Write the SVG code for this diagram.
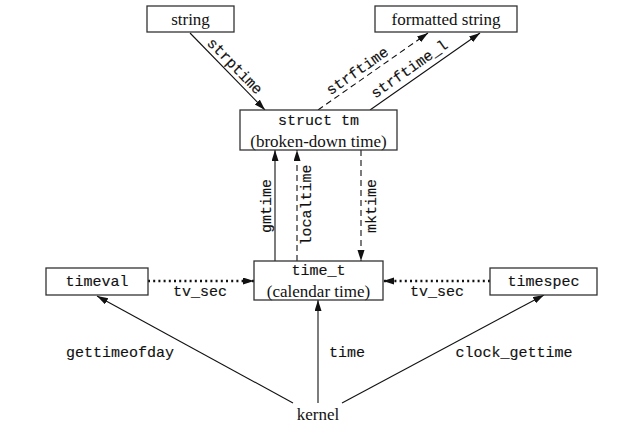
<svg xmlns="http://www.w3.org/2000/svg" width="634" height="443" viewBox="0 0 634 443">
<style>
.box{fill:#fff;stroke:#333;stroke-width:1.3}
.serif{font-family:"Liberation Serif",serif;font-size:17px;fill:#111}
.mono{font-family:"Liberation Mono",monospace;font-size:15px;fill:#111;stroke:#111;stroke-width:0.15}
.ln{stroke:#111;stroke-width:1.1;fill:none}
.dash{stroke-dasharray:6,4}
.dot{stroke-width:2.4;stroke-dasharray:2,3.2}
</style>
<defs>
<marker id="ah" markerUnits="userSpaceOnUse" markerWidth="12" markerHeight="8" refX="11" refY="3.5" orient="auto">
<path d="M0,0 L11,3.5 L0,7 z" fill="#111"/>
</marker>
</defs>
<g id="connectors">
<line class="ln" x1="190" y1="33" x2="265" y2="110" marker-end="url(#ah)"/>
<line class="ln dash" x1="318" y1="110" x2="428" y2="33" marker-end="url(#ah)"/>
<line class="ln" x1="370" y1="110" x2="480" y2="33" marker-end="url(#ah)"/>
<line class="ln" x1="275" y1="261" x2="275" y2="150" marker-end="url(#ah)"/>
<line class="ln dash" x1="297" y1="261" x2="297" y2="150" marker-end="url(#ah)"/>
<line class="ln dash" x1="361" y1="150" x2="361" y2="261" marker-end="url(#ah)"/>
<line class="ln dot" x1="148" y1="281" x2="254" y2="281" marker-end="url(#ah)"/>
<line class="ln dot" x1="490" y1="281" x2="383" y2="281" marker-end="url(#ah)"/>
<line class="ln" x1="293" y1="403" x2="97" y2="296" marker-end="url(#ah)"/>
<line class="ln" x1="318" y1="403" x2="318" y2="300" marker-end="url(#ah)"/>
<line class="ln" x1="342" y1="403" x2="544" y2="295" marker-end="url(#ah)"/>
<text class="mono" transform="translate(234,67) rotate(45.7)" text-anchor="middle" dominant-baseline="central">strptime</text>
<text class="mono" transform="translate(358,72) rotate(-35)" text-anchor="middle" dominant-baseline="central">strftime</text>
<text class="mono" transform="translate(410,70) rotate(-35)" text-anchor="middle" dominant-baseline="central">strftime_l</text>
<text class="mono" transform="translate(267,206) rotate(-90)" text-anchor="middle" dominant-baseline="central">gmtime</text>
<text class="mono" transform="translate(307,205) rotate(-90)" text-anchor="middle" dominant-baseline="central">localtime</text>
<text class="mono" transform="translate(372,206) rotate(-90)" text-anchor="middle" dominant-baseline="central">mktime</text>
<text class="mono" x="200" y="296" text-anchor="middle">tv_sec</text>
<text class="mono" x="437" y="296" text-anchor="middle">tv_sec</text>
<text class="mono" x="120" y="357" text-anchor="middle">gettimeofday</text>
<text class="mono" x="347" y="357" text-anchor="middle">time</text>
<text class="mono" x="514" y="357" text-anchor="middle">clock_gettime</text>
</g>
<g id="string">
<rect class="box" x="147" y="6" width="87" height="26"/>
<text class="serif" x="190.5" y="25" text-anchor="middle">string</text>
</g>
<g id="formatted-string">
<rect class="box" x="375" y="6" width="142" height="26"/>
<text class="serif" x="446" y="25" text-anchor="middle">formatted string</text>
</g>
<g id="struct-tm">
<rect class="box" x="240" y="110" width="157" height="40"/>
<text class="mono" x="318.5" y="125" text-anchor="middle">struct tm</text>
<text class="serif" x="318.5" y="147" text-anchor="middle">(broken-down time)</text>
</g>
<g id="time-t">
<rect class="box" x="254" y="261" width="129" height="39"/>
<text class="mono" x="318.5" y="275" text-anchor="middle">time_t</text>
<text class="serif" x="318.5" y="297" text-anchor="middle">(calendar time)</text>
</g>
<g id="timeval">
<rect class="box" x="46" y="268" width="102" height="27"/>
<text class="mono" x="97" y="286" text-anchor="middle">timeval</text>
</g>
<g id="timespec">
<rect class="box" x="490" y="268" width="107" height="27"/>
<text class="mono" x="543.5" y="286" text-anchor="middle">timespec</text>
</g>
<g id="kernel">
<text class="serif" x="318" y="420" text-anchor="middle">kernel</text>
</g>
</svg>
